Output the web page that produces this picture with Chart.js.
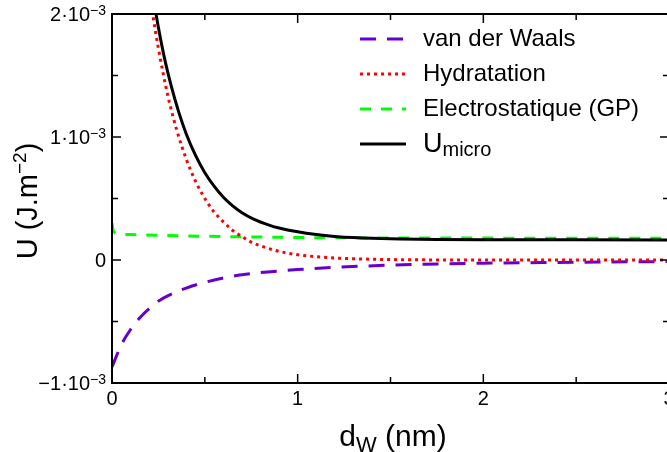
<!DOCTYPE html>
<html><head><meta charset="utf-8">
<script src="https://cdn.jsdelivr.net/npm/chart.js@4.4.1/dist/chart.umd.min.js"></script>
<style>
html,body{margin:0;padding:0;overflow:hidden;background:#fff;width:667px;height:452px}
#wrap{position:absolute;left:0;top:0;width:680px;height:452px}
</style>
</head><body><div id="wrap"><canvas id="c" width="680" height="452"></canvas></div>
<script>
// ---- data (U in units of 1e-3 J.m^-2, d in nm) ----
const xTickLabels = [0, 1, 2, 3];
const xTickMarks = [0, 0.5, 1, 1.5, 2, 2.5, 3];
const yTickValues = [-1, 0, 1, 2];
const yTickMant = ['\u22121', '0', '1', '2'];
const yTickMarks = [-1, -0.5, 0, 0.5, 1, 1.5, 2];

const seriesNames = ['van der Waals', 'Hydratation', 'Electrostatique (GP)', 'U'];

const vdwD = [0, 0.05, 0.10, 0.15, 0.20, 0.26, 0.30, 0.40, 0.50, 0.60, 0.70, 0.84, 1.00, 1.20, 1.50, 1.80, 2.00, 2.50, 3.00];
const vdwU = [-0.87, -0.69, -0.565, -0.47, -0.395, -0.325, -0.292, -0.228, -0.182, -0.146, -0.12, -0.097, -0.078, -0.06, -0.042, -0.031, -0.026, -0.018, -0.013];

const hydD = [0.20, 0.219, 0.25, 0.30, 0.35, 0.40, 0.45, 0.50, 0.55, 0.60, 0.65, 0.70, 0.75, 0.80, 0.90, 1.00, 1.10, 1.20, 1.40, 1.60, 2.00, 2.50, 3.00];
const hydU = [2.2, 2.0, 1.72, 1.34, 1.05, 0.82, 0.64, 0.50, 0.39, 0.31, 0.24, 0.19, 0.145, 0.115, 0.07, 0.043, 0.027, 0.016, 0.006, 0.002, 0.0, 0.0, 0.0];

const elecD = [0, 0.005, 0.015, 0.05, 0.10, 0.30, 0.50, 1.00, 1.50, 2.00, 2.50, 3.00];
const elecU = [0.30, 0.25, 0.222, 0.21, 0.207, 0.200, 0.193, 0.183, 0.179, 0.178, 0.177, 0.176];

const microD = [0.20, 0.237, 0.28, 0.32, 0.36, 0.40, 0.45, 0.50, 0.55, 0.60, 0.65, 0.70, 0.76, 0.85, 0.90, 1.00, 1.10, 1.20, 1.30, 1.40, 1.55, 1.75, 2.00, 2.50, 3.00];
const microU = [2.35, 2.0, 1.66, 1.41, 1.2, 1.025, 0.85, 0.71, 0.60, 0.51, 0.44, 0.385, 0.335, 0.282, 0.26, 0.229, 0.207, 0.192, 0.182, 0.176, 0.171, 0.167, 0.165, 0.164, 0.163];

const pts = (xs, ys) => xs.map((v, i) => ({x: v, y: ys[i]}));

const FONT = '"Liberation Sans", Arial, Helvetica, sans-serif';
const styles = [
  {color: '#6600CC', dash: [16, 11], width: 3},
  {color: '#FF0000', dash: [3, 4], width: 3},
  {color: '#00FF00', dash: [11, 10], width: 3},
  {color: '#000000', dash: [], width: 3}
];

function ds(label, data, s, order) {
  return {label, data, borderColor: s.color, borderDash: s.dash, borderWidth: s.width,
    pointRadius: 0, fill: false, cubicInterpolationMode: 'monotone', order};
}

const overlay = {
  id: 'overlay',
  afterDraw(chart) {
    const {ctx, chartArea: a, scales: {x, y}} = chart;
    ctx.save();
    ctx.strokeStyle = '#000';
    ctx.lineWidth = 2;
    ctx.setLineDash([]);
    ctx.strokeRect(a.left, a.top, a.right - a.left, a.bottom - a.top);
    ctx.lineWidth = 1.5;
    const seg = (x1, y1, x2, y2) => { ctx.beginPath(); ctx.moveTo(x1, y1); ctx.lineTo(x2, y2); ctx.stroke(); };
    xTickMarks.forEach(v => {
      const px = x.getPixelForValue(v);
      const L = Number.isInteger(v) ? 9 : 6;
      seg(px, a.bottom, px, a.bottom - L);
      seg(px, a.top, px, a.top + L);
    });
    yTickMarks.forEach(v => {
      const py = y.getPixelForValue(v);
      const L = Number.isInteger(v) ? 9 : 6;
      seg(a.left, py, a.left + L, py);
      seg(a.right, py, a.right - L, py);
    });
    // y tick labels
    ctx.fillStyle = '#000';
    ctx.textBaseline = 'alphabetic';
    ctx.textAlign = 'left';
    const xEnd = a.left - 6;
    yTickValues.forEach((v, i) => {
      const py = y.getPixelForValue(v) + 7;
      if (v === 0) {
        ctx.font = '20px ' + FONT;
        const w = ctx.measureText('0').width;
        ctx.fillText('0', xEnd - w, py);
        return;
      }
      ctx.font = '14px ' + FONT;
      const sup = '\u22123';
      const sw = ctx.measureText(sup).width;
      ctx.font = '20px ' + FONT;
      const main = yTickMant[i] + '\u00B710';
      const mw = ctx.measureText(main).width;
      ctx.fillText(main, xEnd - sw - mw, py);
      ctx.font = '14px ' + FONT;
      ctx.fillText(sup, xEnd - sw, py - 6);
    });
    // y axis title
    ctx.save();
    ctx.translate(37, 201);
    ctx.rotate(-Math.PI / 2);
    ctx.font = '29px ' + FONT;
    const t1 = 'U (J.m', t3 = ')';
    const w1 = ctx.measureText(t1).width, w3 = ctx.measureText(t3).width;
    ctx.font = '19px ' + FONT;
    const t2 = '\u22122';
    const w2 = ctx.measureText(t2).width;
    let sx = -(w1 + w2 + w3) / 2;
    ctx.font = '29px ' + FONT;
    ctx.fillText(t1, sx, 0);
    ctx.font = '19px ' + FONT;
    ctx.fillText(t2, sx + w1, -11);
    ctx.font = '29px ' + FONT;
    ctx.fillText(t3, sx + w1 + w2, 0);
    ctx.restore();
    // x axis title
    ctx.font = '30px ' + FONT;
    const d1 = 'd', d3 = ' (nm)';
    const dw1 = ctx.measureText(d1).width, dw3 = ctx.measureText(d3).width;
    ctx.font = '22px ' + FONT;
    const dw2 = ctx.measureText('W').width;
    let tx = 393 - (dw1 + dw2 + dw3) / 2;
    ctx.font = '30px ' + FONT;
    ctx.fillText(d1, tx, 446);
    ctx.font = '22px ' + FONT;
    ctx.fillText('W', tx + dw1, 452);
    ctx.font = '30px ' + FONT;
    ctx.fillText(d3, tx + dw1 + dw2, 446);
    // legend
    const rows = [39, 74, 109, 144];
    const bases = [46, 81, 116, 152];
    rows.forEach((ry, i) => {
      const s = styles[i];
      ctx.strokeStyle = s.color;
      ctx.lineWidth = s.width;
      ctx.setLineDash(s.dash);
      seg(360, ry, 406, ry);
      ctx.setLineDash([]);
      ctx.fillStyle = '#000';
      if (i < 3) {
        ctx.font = '24px ' + FONT;
        ctx.fillText(seriesNames[i], 423, bases[i]);
      } else {
        ctx.font = '27px ' + FONT;
        ctx.fillText(seriesNames[i], 423, bases[i]);
        const uw = ctx.measureText(seriesNames[i]).width;
        ctx.font = '20px ' + FONT;
        ctx.fillText('micro', 423 + uw, bases[i] + 4);
      }
    });
    ctx.restore();
  }
};

new Chart(document.getElementById('c'), {
  type: 'line',
  data: {
    datasets: [
      ds(seriesNames[0], pts(vdwD, vdwU), styles[0], 3),
      ds(seriesNames[1], pts(hydD, hydU), styles[1], 1),
      ds(seriesNames[2], pts(elecD, elecU), styles[2], 2),
      ds('U micro', pts(microD, microU), styles[3], 0)
    ]
  },
  options: {
    responsive: false,
    animation: false,
    devicePixelRatio: 1,
    layout: {padding: {top: 14, right: 11, left: 0, bottom: 0}},
    plugins: {legend: {display: false}, tooltip: {enabled: false}},
    scales: {
      x: {
        type: 'linear', min: 0, max: 3,
        afterBuildTicks: s => { s.ticks = xTickLabels.map(v => ({value: v})); },
        ticks: {font: {family: FONT, size: 20}, color: '#000', padding: 4, maxRotation: 0},
        grid: {display: false, drawTicks: false},
        border: {display: false},
        afterFit: s => { s.height = 452 - 383; }
      },
      y: {
        type: 'linear', min: -1, max: 2,
        ticks: {display: false},
        grid: {display: false, drawTicks: false},
        border: {display: false},
        afterFit: s => { s.width = 112; }
      }
    }
  },
  plugins: [overlay]
});
</script>
</body></html>
